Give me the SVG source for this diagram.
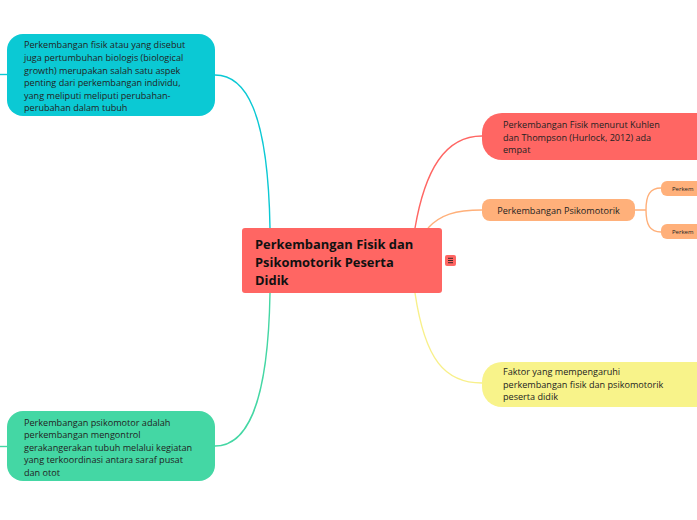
<svg xmlns="http://www.w3.org/2000/svg" width="697" height="520" viewBox="0 0 697 520">
<style>
text{font-family:"Open Sans","Noto Sans",sans-serif;fill:#222;}
.t{font-size:9.1px;}
.c{fill:none;stroke-width:1.4;}
</style>
<rect width="697" height="520" fill="#fff"/>
<g id="connectors">
<path class="c" stroke="#0BC9D4" d="M0,74.5 H7"/>
<path class="c" stroke="#0BC9D4" d="M215,75 C245,75 268,110 270,228"/>
<path class="c" stroke="#44D7A4" d="M0,446.5 H7"/>
<path class="c" stroke="#44D7A4" d="M215,446 C245,446 268,410 270,293"/>
<path class="c" stroke="#FF6663" d="M415,228 C425,170 445,136 482,136"/>
<path class="c" stroke="#FFB07A" d="M428,228 C440,215 455,210 482,210"/>
<path class="c" stroke="#F8F08A" d="M415,293 C425,360 445,383 482,383"/>
<path class="c" stroke="#FFB07A" d="M635,210 H646 M661,188 C650,188 646,195 646,210 C646,225 650,232 661,232"/>
</g>
<g id="center">
<rect x="242" y="228" width="200" height="65" rx="3" fill="#FF6663"/>
<text x="255" y="249" font-size="12.9" font-weight="bold" style="fill:#111">Perkembangan Fisik dan</text>
<text x="255" y="267" font-size="12.9" font-weight="bold" style="fill:#111">Psikomotorik Peserta</text>
<text x="255" y="285" font-size="12.9" font-weight="bold" style="fill:#111">Didik</text>
</g>
<g id="icon">
<rect x="445" y="255" width="11" height="11" rx="2" fill="#FF6663"/>
<path d="M448,258.3 h5 M448,260.5 h5 M448,262.7 h5" stroke="#222" stroke-width="0.9"/>
</g>
<g id="node-fisik">
<rect x="7" y="34" width="208" height="82" rx="16" fill="#0BC9D4"/>
<text class="t" x="24" y="48">Perkembangan fisik atau yang disebut</text>
<text class="t" x="24" y="61">juga pertumbuhan biologis (biological</text>
<text class="t" x="24" y="73.5">growth) merupakan salah satu aspek</text>
<text class="t" x="24" y="86">penting dari perkembangan individu,</text>
<text class="t" x="24" y="99">yang meliputi meliputi perubahan-</text>
<text class="t" x="24" y="111">perubahan dalam tubuh</text>
</g>
<g id="node-psikomotor">
<rect x="7" y="411" width="208" height="70" rx="16" fill="#44D7A4"/>
<text class="t" x="24" y="425.5">Perkembangan psikomotor adalah</text>
<text class="t" x="24" y="438">perkembangan mengontrol</text>
<text class="t" x="24" y="450.5">gerakangerakan tubuh melalui kegiatan</text>
<text class="t" x="24" y="463">yang terkoordinasi antara saraf pusat</text>
<text class="t" x="24" y="475.5">dan otot</text>
</g>
<g id="node-kuhlen">
<rect x="482" y="113" width="240" height="47" rx="20" fill="#FF6663"/>
<text class="t" x="503" y="128">Perkembangan Fisik menurut Kuhlen</text>
<text class="t" x="503" y="140.5">dan Thompson (Hurlock, 2012) ada</text>
<text class="t" x="503" y="153">empat</text>
</g>
<g id="node-psikomotorik">
<rect x="482" y="199" width="153" height="22" rx="8" fill="#FFB07A"/>
<text class="t" x="558.5" y="213.5" text-anchor="middle">Perkembangan Psikomotorik</text>
</g>
<g id="node-sub1">
<rect x="661" y="181" width="60" height="15" rx="6" fill="#FFB07A"/>
<text x="672" y="191" font-size="6">Perkem</text>
</g>
<g id="node-sub2">
<rect x="661" y="224" width="60" height="15" rx="6" fill="#FFB07A"/>
<text x="672" y="234" font-size="6">Perkem</text>
</g>
<g id="node-faktor">
<rect x="482" y="362" width="240" height="45" rx="20" fill="#F8F38A"/>
<text class="t" x="503" y="375">Faktor yang mempengaruhi</text>
<text class="t" x="503" y="387.5">perkembangan fisik dan psikomotorik</text>
<text class="t" x="503" y="400">peserta didik</text>
</g>
</svg>
